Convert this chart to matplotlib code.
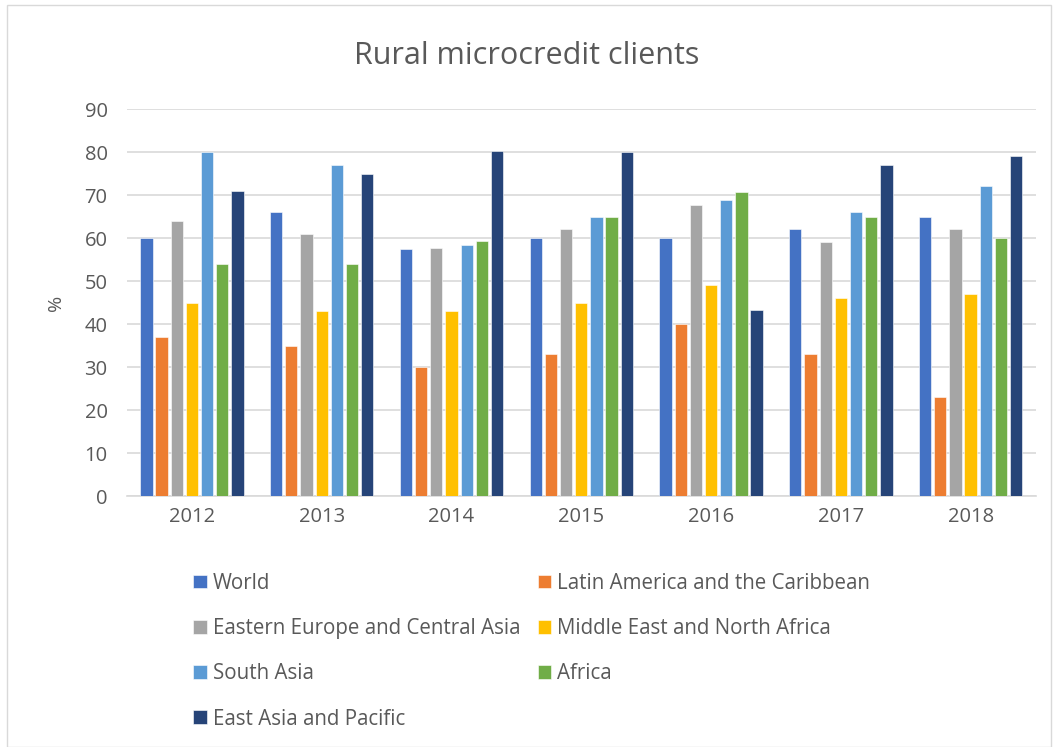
import numpy as np
import matplotlib.pyplot as plt
from matplotlib.patches import Rectangle

plt.rcParams['font.family'] = ['Open Sans', 'DejaVu Sans']

years = ['2012', '2013', '2014', '2015', '2016', '2017', '2018']
regions = ['World', 'Latin America and the Caribbean',
           'Eastern Europe and Central Asia', 'Middle East and North Africa',
           'South Asia', 'Africa', 'East Asia and Pacific']
colors = ['#4472c4', '#ed7d31', '#a5a5a5', '#ffc000', '#5b9bd5', '#70ad47', '#264478']

world = [60, 66, 57.4, 60, 60, 62, 65]
latam = [37, 35, 30, 33, 40, 33, 23]
eeca = [64, 61, 57.8, 62, 67.7, 59, 62]
mena = [45, 43, 43, 45, 49, 46, 47]
south_asia = [80, 77, 58.4, 65, 68.8, 66, 72]
africa = [54, 54, 59.3, 65, 70.8, 65, 60]
east_asia = [71, 75, 80.3, 80, 43.2, 77, 79]
series = [world, latam, eeca, mena, south_asia, africa, east_asia]

fig = plt.figure(figsize=(10.54, 7.47), dpi=100)
ax = fig.add_axes([0.1205, 0.336, 0.862, 0.518])

x = np.arange(len(years))
step = 0.117
width = 0.095
bars = []
for i, (name, vals) in enumerate(zip(regions, series)):
    b = ax.bar(x + (i - 3) * step, vals, width, color=colors[i], label=name,
               edgecolor='white', linewidth=0.4, zorder=3)
    bars.append(b)

ax.set_xlim(-0.5, len(years) - 0.5)
ax.set_ylim(0, 90)
ax.set_yticks(range(0, 91, 10))
ax.set_xticks(x)
ax.set_xticklabels(years)
ax.tick_params(length=0, labelsize=14.5, colors='#595959')
ax.tick_params(axis='y', pad=14)
ax.tick_params(axis='x', pad=8)
ax.grid(axis='y', color='#d9d9d9', linewidth=1.2, zorder=0)
for s in ['top', 'right', 'left']:
    ax.spines[s].set_visible(False)
ax.spines['bottom'].set_color('#d9d9d9')
ax.spines['bottom'].set_linewidth(1.2)
ax.set_ylabel('%', fontsize=14, color='#595959', labelpad=14)

fig.suptitle('Rural microcredit clients', y=0.945, fontsize=22, color='#595959')

# legend reads row by row, matplotlib fills column by column
order = [0, 2, 4, 6, 1, 3, 5]
fig.legend([bars[i] for i in order], [regions[i] for i in order],
           loc='upper left', bbox_to_anchor=(0.166, 0.258), ncol=2,
           frameon=False, fontsize=14.8, labelcolor='#595959',
           handlelength=0.66, handleheight=0.66, handletextpad=0.3,
           columnspacing=0.82, labelspacing=1.18)

fig.patches.append(Rectangle((0.007, 0.0), 0.99, 0.993, transform=fig.transFigure,
                             fill=False, edgecolor='#d9d9d9', linewidth=1))

fig.savefig('out.png', dpi=100)
